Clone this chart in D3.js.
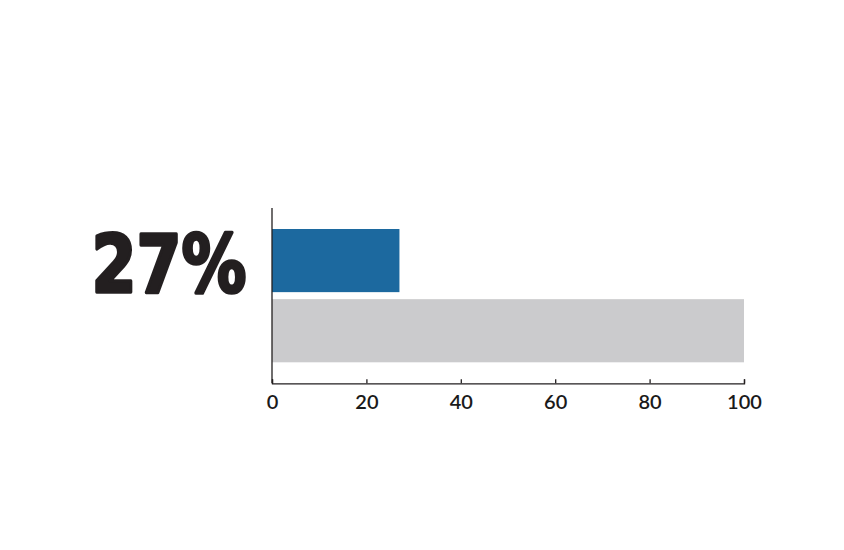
<!DOCTYPE html>
<html>
<head>
<meta charset="utf-8">
<script src="https://cdn.jsdelivr.net/npm/d3@7"></script>
<style>
  body { margin: 0; background: #fff; }
  .x.axis text { font-family: Lato, "Open Sans", sans-serif; font-size: 20px; font-weight: 600; fill: #1a1a1a; }
  .x.axis path, .x.axis line { stroke: #231f20; stroke-width: 1.3; }
</style>
</head>
<body>
<div class="chart"></div>
<script>
// データ
const categories = ["share", "total"];
const values = [27, 100];
const barColors = ["#1c699f", "#cbcbcd"];
const tickValues = [0, 20, 40, 60, 80, 100];
const bigLabel = "27%";

// サイズ
const W = 844, H = 550;
const x0 = 272, x1 = 744;
const barTop = 229, barBottom = 362.3;
const axisY = 383.3, axisTop = 208;

const svg = d3.select(".chart")
    .append("svg")
    .attr("width", W)
    .attr("height", H);

// スケール
const x = d3.scaleLinear().domain([0, 100]).range([x0, x1]);
const y = d3.scaleBand().domain(categories).range([barTop, barBottom]).paddingInner(0.1).paddingOuter(0);

// バー
svg.selectAll(".bar")
    .data(categories)
    .enter()
    .append("rect")
    .attr("class", "bar")
    .attr("x", x(0))
    .attr("y", d => y(d))
    .attr("width", (d, i) => x(values[i]) - x(0))
    .attr("height", y.bandwidth())
    .attr("fill", (d, i) => barColors[i]);

// 縦の線
svg.append("line")
    .attr("x1", x(0)).attr("x2", x(0))
    .attr("y1", axisTop).attr("y2", axisY)
    .attr("stroke", "#231f20")
    .attr("stroke-width", 1.3);

// 横軸
svg.append("g")
    .attr("class", "x axis")
    .attr("transform", `translate(0,${axisY})`)
    .call(d3.axisBottom(x).tickValues(tickValues).tickSizeInner(-4).tickSizeOuter(-4).tickPadding(12));

// 大きな数字 (太く見せるため縁取り)
svg.append("text")
    .attr("x", 246.5)
    .attr("y", 291.5)
    .attr("text-anchor", "end")
    .attr("textLength", 155)
    .attr("lengthAdjust", "spacingAndGlyphs")
    .style("font-family", "'DejaVu Sans', sans-serif")
    .style("font-weight", "bold")
    .style("font-size", "81px")
    .style("fill", "#231f20")
    .style("stroke", "#231f20")
    .style("stroke-width", 3.5)
    .style("stroke-linejoin", "round")
    .text(bigLabel);
</script>
</body>
</html>
